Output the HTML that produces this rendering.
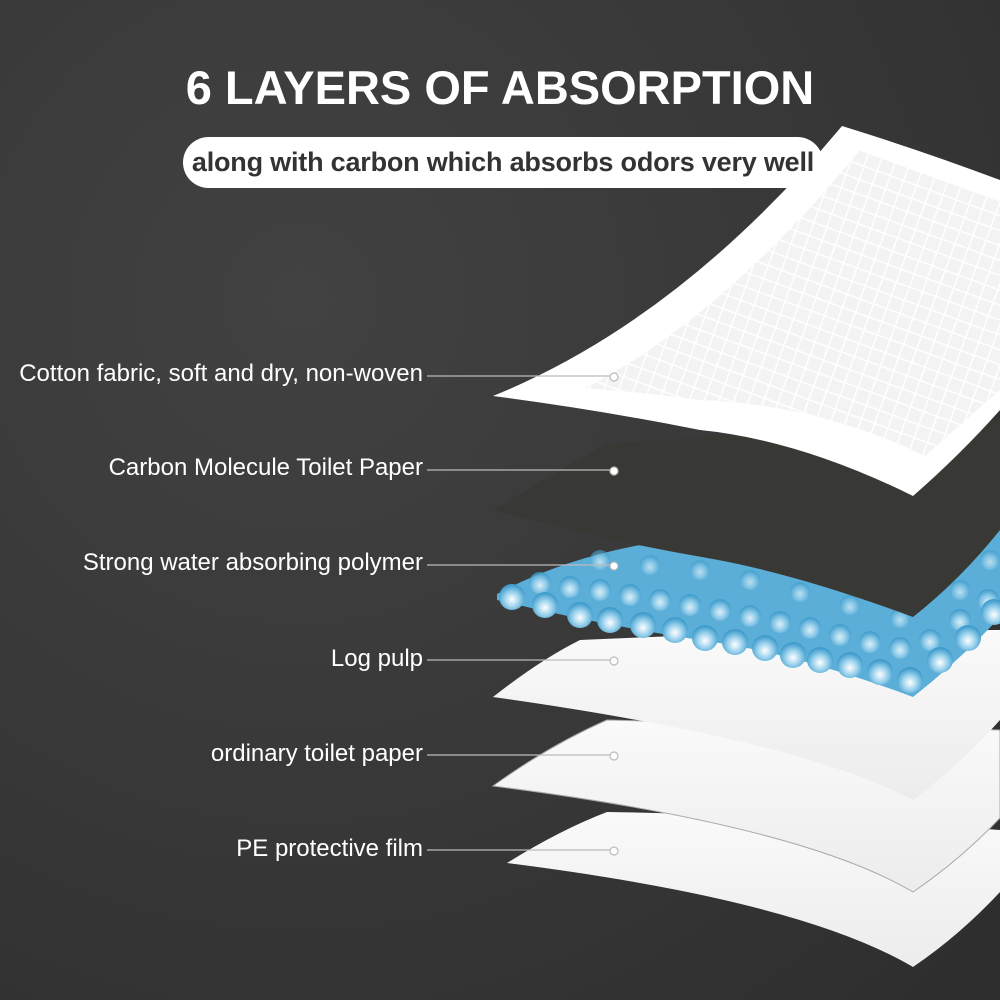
<!DOCTYPE html>
<html><head><meta charset="utf-8"><style>
html,body{margin:0;padding:0}
body{width:1000px;height:1000px;overflow:hidden;background:radial-gradient(ellipse at 30% 30%,#424242 0%,#363636 60%,#2d2d2d 100%);font-family:"Liberation Sans",sans-serif;position:relative}
.t{position:absolute;left:0;width:1000px;top:60px;text-align:center;color:#fff;font-weight:bold;font-size:47px}
.pill{position:absolute;left:183px;top:137px;width:640px;height:51px;border-radius:26px;background:#fff;color:#333;font-weight:bold;font-size:27px;line-height:51px;text-align:center;letter-spacing:-0.2px}
.l{position:absolute;right:577px;color:#fff;font-size:24px;white-space:nowrap}
</style></head><body>
<svg width="1000" height="1000" style="position:absolute;left:0;top:0">
<defs>
<pattern id="grid" width="14" height="14" patternUnits="userSpaceOnUse" patternTransform="rotate(20)">
<rect width="14" height="14" fill="#f3f3f3"/><path d="M0 0H14M0 0V14" stroke="#fff" stroke-width="3"/></pattern>
<radialGradient id="bead" cx="50%" cy="60%" r="55%"><stop offset="0" stop-color="#fff"/><stop offset=".5" stop-color="#9fd4ee"/><stop offset="1" stop-color="#3f9ccc"/></radialGradient>
<linearGradient id="w" x1="0" y1="0" x2="0" y2="1"><stop offset="0" stop-color="#fafafa"/><stop offset="1" stop-color="#ececec"/></linearGradient>
</defs>
<path d="M507 863 Q560 830 607 812 Q800 815 1000 830 L1000 892 Q960 935 913 967 Q800 900 507 863Z" fill="url(#w)"/>
<path d="M493 786 Q550 745 607 720 Q800 725 1000 730 L1000 818 Q960 860 913 892 Q800 825 493 786Z" fill="url(#w)" stroke="#aaa" stroke-width="1"/>
<path d="M493 697 Q540 660 580 640 Q800 630 1000 630 L1000 720 Q960 765 913 800 Q800 740 493 697Z" fill="url(#w)"/>
<path d="M497 594 Q560 560 640 545 Q820 540 1000 530 L1000 617 Q960 660 913 697 Q800 655 713 642 Q600 625 497 600Z" fill="#5aaed8"/>
<g fill="url(#bead)">
<circle cx="600" cy="560" r="10" opacity=".6"/><circle cx="650" cy="565" r="10" opacity=".6"/><circle cx="700" cy="570" r="10" opacity=".6"/><circle cx="750" cy="580" r="10" opacity=".6"/><circle cx="800" cy="592" r="10" opacity=".6"/><circle cx="850" cy="605" r="10" opacity=".6"/><circle cx="900" cy="618" r="10" opacity=".6"/><circle cx="960" cy="590" r="10" opacity=".6"/><circle cx="990" cy="560" r="10" opacity=".6"/>
<circle cx="540" cy="583" r="11" opacity=".8"/><circle cx="570" cy="587" r="11" opacity=".8"/><circle cx="600" cy="590" r="11" opacity=".8"/><circle cx="630" cy="595" r="11" opacity=".8"/><circle cx="660" cy="600" r="11" opacity=".8"/><circle cx="690" cy="605" r="11" opacity=".8"/><circle cx="720" cy="610" r="11" opacity=".8"/><circle cx="750" cy="616" r="11" opacity=".8"/><circle cx="780" cy="622" r="11" opacity=".8"/><circle cx="810" cy="628" r="11" opacity=".8"/><circle cx="840" cy="635" r="11" opacity=".8"/><circle cx="870" cy="642" r="11" opacity=".8"/><circle cx="900" cy="648" r="11" opacity=".8"/><circle cx="930" cy="640" r="11" opacity=".8"/><circle cx="960" cy="620" r="11" opacity=".8"/><circle cx="988" cy="600" r="11" opacity=".8"/>
<circle cx="512" cy="597" r="13"/><circle cx="545" cy="605" r="13"/><circle cx="580" cy="615" r="13"/><circle cx="610" cy="620" r="13"/><circle cx="643" cy="625" r="13"/><circle cx="675" cy="630" r="13"/><circle cx="705" cy="638" r="13"/><circle cx="735" cy="642" r="13"/><circle cx="765" cy="648" r="13"/><circle cx="793" cy="655" r="13"/><circle cx="820" cy="660" r="13"/><circle cx="850" cy="665" r="13"/><circle cx="880" cy="672" r="13"/><circle cx="910" cy="680" r="13"/><circle cx="940" cy="660" r="13"/><circle cx="968" cy="638" r="13"/><circle cx="994" cy="612" r="13"/>
</g>
<path d="M493 510 Q560 470 607 444 Q800 430 1000 420 L1000 530 Q960 580 913 617 Q800 575 713 559 Q600 540 493 510Z" fill="#383835"/>
<path d="M493 396 Q680 320 842 126 Q920 150 1000 180 L1000 410 Q960 455 913 496 Q800 440 700 430 Q600 410 493 396Z" fill="#fff"/>
<path d="M585 388 Q720 320 860 150 Q930 175 1000 200 L1000 390 Q960 425 925 456 Q820 405 700 400 Q640 392 585 388Z" fill="url(#grid)"/>
<g stroke="#bbb" stroke-width="1.2" fill="none">
<line x1="427" y1="376" x2="610" y2="376"/><circle cx="614" cy="377" r="4" fill="#fff"/>
<line x1="427" y1="470" x2="610" y2="470"/><circle cx="614" cy="471" r="4" fill="#fff"/>
<line x1="427" y1="565" x2="610" y2="565"/><circle cx="614" cy="566" r="4" fill="#fff"/>
<line x1="427" y1="660" x2="610" y2="660"/><circle cx="614" cy="661" r="4" fill="#fff"/>
<line x1="427" y1="755" x2="610" y2="755"/><circle cx="614" cy="756" r="4" fill="#fff"/>
<line x1="427" y1="850" x2="610" y2="850"/><circle cx="614" cy="851" r="4" fill="#fff"/>
</g>
</svg>
<div class="t">6 LAYERS OF ABSORPTION</div>
<div class="pill">along with carbon which absorbs odors very well</div>
<div class="l" style="top:360px">Cotton fabric, soft and dry, non-woven</div>
<div class="l" style="top:454px">Carbon Molecule Toilet Paper</div>
<div class="l" style="top:549px">Strong water absorbing polymer</div>
<div class="l" style="top:645px">Log pulp</div>
<div class="l" style="top:740px">ordinary toilet paper</div>
<div class="l" style="top:835px">PE protective film</div>
</body></html>
